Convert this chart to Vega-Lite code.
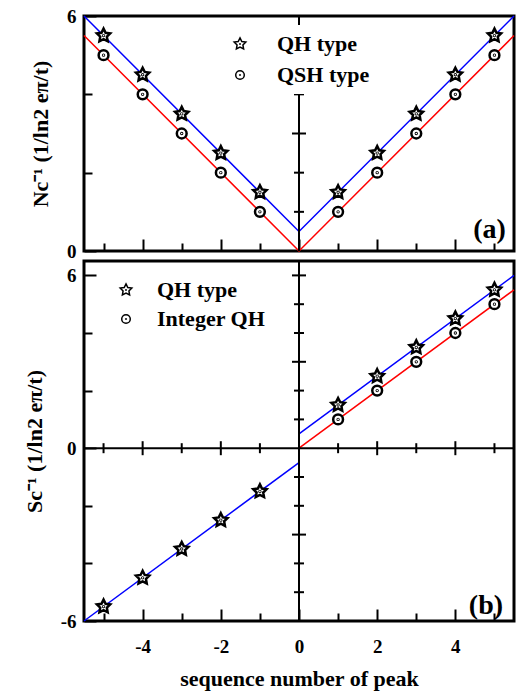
{
  "$schema": "https://vega.github.io/schema/vega-lite/v6.json",
  "background": "white",
  "padding": {"left": 21, "top": 5, "right": 0, "bottom": 4},
  "bounds": "flush",
  "spacing": 10,
  "config": {
    "font": "Liberation Serif",
    "view": {"stroke": "black", "strokeWidth": 3},
    "axis": {
      "labelFont": "Liberation Serif", "labelFontWeight": "bold", "labelFontSize": 19, "labelColor": "black",
      "titleFont": "Liberation Serif", "titleFontWeight": "bold", "titleFontSize": 22, "titleColor": "black",
      "domain": false, "grid": false, "tickColor": "black", "tickWidth": 2, "labelFlush": false, "minExtent": 0
    },
    "legend": {
      "labelFont": "Liberation Serif", "labelFontWeight": "bold", "labelFontSize": 22, "labelColor": "black"
    }
  },
  "datasets": {
    "linesTop": [
      {"x": -5.5, "y": 6, "series": "blue"}, {"x": 0, "y": 0.5, "series": "blue"}, {"x": 5.5, "y": 6, "series": "blue"},
      {"x": -5.5, "y": 5.5, "series": "red"}, {"x": 0, "y": 0, "series": "red"}, {"x": 5.5, "y": 5.5, "series": "red"}
    ],
    "pointsTop": [
      {"n": -5, "value": 5.5, "type": "QH type"}, {"n": -4, "value": 4.5, "type": "QH type"}, {"n": -3, "value": 3.5, "type": "QH type"},
      {"n": -2, "value": 2.5, "type": "QH type"}, {"n": -1, "value": 1.5, "type": "QH type"}, {"n": 1, "value": 1.5, "type": "QH type"},
      {"n": 2, "value": 2.5, "type": "QH type"}, {"n": 3, "value": 3.5, "type": "QH type"}, {"n": 4, "value": 4.5, "type": "QH type"},
      {"n": 5, "value": 5.5, "type": "QH type"},
      {"n": -5, "value": 5, "type": "QSH type"}, {"n": -4, "value": 4, "type": "QSH type"}, {"n": -3, "value": 3, "type": "QSH type"},
      {"n": -2, "value": 2, "type": "QSH type"}, {"n": -1, "value": 1, "type": "QSH type"}, {"n": 1, "value": 1, "type": "QSH type"},
      {"n": 2, "value": 2, "type": "QSH type"}, {"n": 3, "value": 3, "type": "QSH type"}, {"n": 4, "value": 4, "type": "QSH type"},
      {"n": 5, "value": 5, "type": "QSH type"}
    ],
    "linesBottom": [
      {"x": -5.5, "y": -6, "series": "blue", "seg": "b1"}, {"x": 0, "y": -0.5, "series": "blue", "seg": "b1"},
      {"x": 0, "y": 0.5, "series": "blue", "seg": "b2"}, {"x": 5.5, "y": 6, "series": "blue", "seg": "b2"},
      {"x": 0, "y": 0, "series": "red", "seg": "r1"}, {"x": 5.5, "y": 5.5, "series": "red", "seg": "r1"}
    ],
    "pointsBottom": [
      {"n": -5, "value": -5.5, "type": "QH type"}, {"n": -4, "value": -4.5, "type": "QH type"}, {"n": -3, "value": -3.5, "type": "QH type"},
      {"n": -2, "value": -2.5, "type": "QH type"}, {"n": -1, "value": -1.5, "type": "QH type"}, {"n": 1, "value": 1.5, "type": "QH type"},
      {"n": 2, "value": 2.5, "type": "QH type"}, {"n": 3, "value": 3.5, "type": "QH type"}, {"n": 4, "value": 4.5, "type": "QH type"},
      {"n": 5, "value": 5.5, "type": "QH type"},
      {"n": 1, "value": 1, "type": "Integer QH"}, {"n": 2, "value": 2, "type": "Integer QH"}, {"n": 3, "value": 3, "type": "Integer QH"},
      {"n": 4, "value": 4, "type": "Integer QH"}, {"n": 5, "value": 5, "type": "Integer QH"}
    ],
    "vTicksTop": [{"v": 1}, {"v": 2}, {"v": 3}, {"v": 4}, {"v": 5}],
    "vTicksBottom": [{"v": -5}, {"v": -4}, {"v": -3}, {"v": -2}, {"v": -1}, {"v": 1}, {"v": 2}, {"v": 3}, {"v": 4}, {"v": 5}, {"v": 6}],
    "hTicksBottom": [{"v": -5}, {"v": -4}, {"v": -3}, {"v": -2}, {"v": -1}, {"v": 1}, {"v": 2}, {"v": 3}, {"v": 4}, {"v": 5}]
  },
  "resolve": {"scale": {"x": "independent", "y": "independent", "shape": "independent", "color": "independent"}, "legend": {"shape": "independent"}},
  "vconcat": [
    {
      "width": 430,
      "height": 235,
      "layer": [
        {
          "data": {"name": "linesTop"},
          "mark": {"type": "line", "strokeWidth": 1.5},
          "encoding": {
            "x": {"field": "x", "type": "quantitative", "scale": {"domain": [-5.5, 5.5], "nice": false, "zero": false},
              "axis": {"values": [-5, -4, -3, -2, -1, 0, 1, 2, 3, 4, 5], "labels": false, "title": null,
                "tickSize": {"condition": {"test": "datum.value % 2 === 0", "value": -12}, "value": -8}}},
            "y": {"field": "y", "type": "quantitative", "scale": {"domain": [0, 6], "nice": false, "zero": false},
              "axis": {"values": [0, 1, 2, 3, 4, 5, 6], "labelExpr": "datum.value % 3 === 0 ? '' + datum.value : ''",
                "tickSize": {"condition": {"test": "datum.value % 3 === 0", "value": -12}, "value": -8},
                "labelPadding": 20, "title": "Nc⁻¹ (1/ln2 eπ/t)", "titlePadding": 14}},
            "color": {"field": "series", "type": "nominal", "scale": {"domain": ["blue", "red"], "range": ["#0000ff", "#ff0000"]}, "legend": null}
          }
        },
        {
          "data": {"values": [{}]},
          "mark": {"type": "rule", "stroke": "black", "strokeWidth": 2},
          "encoding": {"x": {"datum": 0, "type": "quantitative"}}
        },
        {
          "data": {"name": "vTicksTop"},
          "mark": {"type": "tick", "orient": "horizontal", "color": "black", "thickness": 2, "opacity": 1},
          "encoding": {
            "x": {"datum": 0, "type": "quantitative"},
            "y": {"field": "v", "type": "quantitative"},
            "size": {"condition": {"test": "datum.v % 3 === 0", "value": 14}, "value": 10}
          }
        },
        {
          "data": {"name": "pointsTop"},
          "mark": {"type": "point", "filled": true, "fill": "white", "stroke": "black", "strokeWidth": 2.5, "size": 196, "opacity": 1},
          "encoding": {
            "x": {"field": "n", "type": "quantitative"},
            "y": {"field": "value", "type": "quantitative"},
            "shape": {"field": "type", "type": "nominal",
              "scale": {"domain": ["QH type", "QSH type"], "range": [
                "M0,-1L0.2939,-0.4045L0.9511,-0.309L0.4755,0.1545L0.5878,0.809L0,0.5L-0.5878,0.809L-0.4755,0.1545L-0.9511,-0.309L-0.2939,-0.4045Z M0.06,0A0.06,0.06,0,1,1,-0.06,0A0.06,0.06,0,1,1,0.06,0Z",
                "M0.7,0A0.7,0.7,0,1,1,-0.7,0A0.7,0.7,0,1,1,0.7,0Z M0.06,0A0.06,0.06,0,1,1,-0.06,0A0.06,0.06,0,1,1,0.06,0Z"]},
              "legend": {"orient": "none", "legendX": 137, "legendY": 9, "title": null, "fillColor": "white", "padding": 8,
                "symbolSize": 150, "labelOffset": 26, "rowPadding": 9, "zindex": 2,
                "encode": {"symbols": {"update": {"fill": {"value": "white"}, "stroke": {"value": "black"}, "strokeWidth": {"value": 2.2}, "opacity": {"value": 1}}}}}}
          }
        },
        {
          "data": {"values": [{"label": "(a)"}]},
          "mark": {"type": "text", "font": "Liberation Serif", "fontWeight": "bold", "fontSize": 28, "align": "right", "baseline": "alphabetic", "color": "black"},
          "encoding": {"x": {"datum": 5.29, "type": "quantitative"}, "y": {"datum": 0.33, "type": "quantitative"}, "text": {"field": "label"}}
        }
      ]
    },
    {
      "width": 430,
      "height": 360,
      "layer": [
        {
          "data": {"name": "linesBottom"},
          "mark": {"type": "line", "strokeWidth": 1.5},
          "encoding": {
            "x": {"field": "x", "type": "quantitative", "scale": {"domain": [-5.5, 5.5], "nice": false, "zero": false},
              "axis": {"values": [-5, -4, -3, -2, -1, 0, 1, 2, 3, 4, 5], "labelExpr": "datum.value % 2 === 0 ? '' + datum.value : ''",
                "tickSize": {"condition": {"test": "datum.value % 2 === 0", "value": -12}, "value": -8},
                "labelPadding": 28, "title": "sequence number of peak", "titlePadding": 12}},
            "y": {"field": "y", "type": "quantitative", "scale": {"domain": [-6, 6.5], "nice": false, "zero": false},
              "axis": {"values": [-6, -5, -4, -3, -2, -1, 0, 1, 2, 3, 4, 5, 6], "labelExpr": "datum.value % 3 === 0 ? '' + datum.value : ''",
                "tickSize": {"condition": {"test": "datum.value % 3 === 0", "value": -12}, "value": -8},
                "labelPadding": 20, "title": "Sc⁻¹ (1/ln2 eπ/t)", "titlePadding": 14}},
            "detail": {"field": "seg", "type": "nominal"},
            "color": {"field": "series", "type": "nominal", "scale": {"domain": ["blue", "red"], "range": ["#0000ff", "#ff0000"]}, "legend": null}
          }
        },
        {
          "data": {"values": [{}]},
          "mark": {"type": "rule", "stroke": "black", "strokeWidth": 2},
          "encoding": {"x": {"datum": 0, "type": "quantitative"}}
        },
        {
          "data": {"values": [{}]},
          "mark": {"type": "rule", "stroke": "black", "strokeWidth": 2},
          "encoding": {"y": {"datum": 0, "type": "quantitative"}}
        },
        {
          "data": {"name": "vTicksBottom"},
          "mark": {"type": "tick", "orient": "horizontal", "color": "black", "thickness": 2, "opacity": 1},
          "encoding": {
            "x": {"datum": 0, "type": "quantitative"},
            "y": {"field": "v", "type": "quantitative"},
            "size": {"condition": {"test": "datum.v % 3 === 0", "value": 14}, "value": 10}
          }
        },
        {
          "data": {"name": "hTicksBottom"},
          "mark": {"type": "tick", "orient": "vertical", "color": "black", "thickness": 2, "opacity": 1},
          "encoding": {
            "x": {"field": "v", "type": "quantitative"},
            "y": {"datum": 0, "type": "quantitative"},
            "size": {"condition": {"test": "datum.v % 2 === 0", "value": 14}, "value": 10}
          }
        },
        {
          "data": {"name": "pointsBottom"},
          "mark": {"type": "point", "filled": true, "fill": "white", "stroke": "black", "strokeWidth": 2.5, "size": 196, "opacity": 1},
          "encoding": {
            "x": {"field": "n", "type": "quantitative"},
            "y": {"field": "value", "type": "quantitative"},
            "shape": {"field": "type", "type": "nominal",
              "scale": {"domain": ["QH type", "Integer QH"], "range": [
                "M0,-1L0.2939,-0.4045L0.9511,-0.309L0.4755,0.1545L0.5878,0.809L0,0.5L-0.5878,0.809L-0.4755,0.1545L-0.9511,-0.309L-0.2939,-0.4045Z M0.06,0A0.06,0.06,0,1,1,-0.06,0A0.06,0.06,0,1,1,0.06,0Z",
                "M0.7,0A0.7,0.7,0,1,1,-0.7,0A0.7,0.7,0,1,1,0.7,0Z M0.06,0A0.06,0.06,0,1,1,-0.06,0A0.06,0.06,0,1,1,0.06,0Z"]},
              "legend": {"orient": "none", "legendX": 31, "legendY": 18, "title": null, "padding": 0,
                "symbolSize": 150, "labelOffset": 20, "rowPadding": 7, "zindex": 2,
                "encode": {"symbols": {"update": {"fill": {"value": "white"}, "stroke": {"value": "black"}, "strokeWidth": {"value": 1.8}, "opacity": {"value": 1}}}}}}
          }
        },
        {
          "data": {"values": [{"label": "(b)"}]},
          "mark": {"type": "text", "font": "Liberation Serif", "fontWeight": "bold", "fontSize": 28, "align": "right", "baseline": "alphabetic", "color": "black"},
          "encoding": {"x": {"datum": 5.22, "type": "quantitative"}, "y": {"datum": -5.76, "type": "quantitative"}, "text": {"field": "label"}}
        }
      ]
    }
  ]
}
